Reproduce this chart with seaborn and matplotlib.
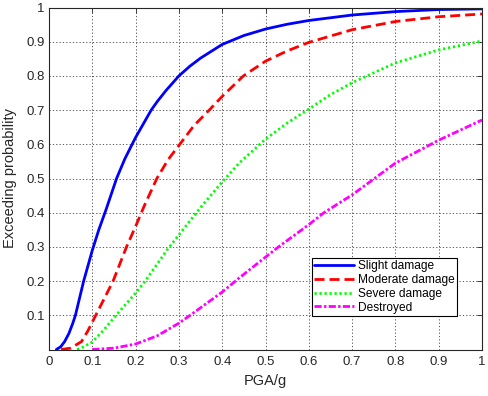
import numpy as np
import pandas as pd
import matplotlib
matplotlib.use("Agg")
import matplotlib.pyplot as plt
import seaborn as sns

# values (PGA/g, exceeding probability)
slight_x = [0.017, 0.027, 0.036, 0.046, 0.055, 0.061, 0.08, 0.10, 0.115, 0.132, 0.156, 0.175,
            0.192, 0.20, 0.236, 0.25, 0.27, 0.30, 0.325, 0.35, 0.40, 0.45, 0.50, 0.55, 0.60,
            0.70, 0.80, 0.90, 1.00]
slight_y = [0.0, 0.008, 0.023, 0.047, 0.077, 0.10, 0.20, 0.29, 0.35, 0.41, 0.50, 0.557,
            0.60, 0.62, 0.70, 0.725, 0.757, 0.80, 0.828, 0.852, 0.892, 0.918, 0.937, 0.951,
            0.962, 0.978, 0.988, 0.994, 0.996]

moderate_x = [0.028, 0.05, 0.075, 0.09, 0.108, 0.128, 0.148, 0.179, 0.20, 0.22, 0.249, 0.275,
              0.302, 0.335, 0.37, 0.40, 0.449, 0.50, 0.55, 0.60, 0.70, 0.80, 0.90, 1.00]
moderate_y = [0.0, 0.004, 0.023, 0.055, 0.10, 0.15, 0.20, 0.30, 0.36, 0.42, 0.50, 0.555,
              0.60, 0.655, 0.70, 0.74, 0.80, 0.843, 0.873, 0.898, 0.935, 0.959, 0.973, 0.981]

severe_x = [0.065, 0.08, 0.10, 0.125, 0.155, 0.20, 0.222, 0.25, 0.272, 0.30, 0.35, 0.40,
            0.44, 0.487, 0.50, 0.55, 0.60, 0.65, 0.70, 0.80, 0.90, 1.00]
severe_y = [0.0, 0.008, 0.022, 0.055, 0.10, 0.165, 0.20, 0.25, 0.29, 0.335, 0.415, 0.49,
            0.546, 0.60, 0.615, 0.662, 0.703, 0.745, 0.78, 0.838, 0.876, 0.902]

destroyed_x = [0.10, 0.15, 0.20, 0.25, 0.30, 0.326, 0.40, 0.441, 0.50, 0.53, 0.60, 0.635,
               0.70, 0.80, 0.90, 1.00]
destroyed_y = [0.0, 0.004, 0.016, 0.04, 0.077, 0.10, 0.168, 0.211, 0.27, 0.30, 0.365, 0.40,
               0.452, 0.545, 0.612, 0.671]

labels = ["Slight damage", "Moderate damage", "Severe damage", "Destroyed"]
x_ticks = [0, 0.1, 0.2, 0.3, 0.4, 0.5, 0.6, 0.7, 0.8, 0.9, 1]
y_ticks = [0.1, 0.2, 0.3, 0.4, 0.5, 0.6, 0.7, 0.8, 0.9, 1]

sns.set_style("white")
plt.rcParams['font.family'] = ['Liberation Sans', 'DejaVu Sans']

series = [
    (slight_x, slight_y, '#0000ff', '-'),
    (moderate_x, moderate_y, '#ff0000', (0, (3.6, 1.8))),
    (severe_x, severe_y, '#00ff00', (0, (0.8, 1.0))),
    (destroyed_x, destroyed_y, '#ff00ff', (0, (2.6, 0.8, 0.9, 0.8))),
]

fig = plt.figure(figsize=(4.88, 3.96), dpi=100)
ax = fig.add_axes([49 / 488, 1 - 349.5 / 396, 433 / 488, 342 / 396])

for (xs, ys, col, ls), lab in zip(series, labels):
    sns.lineplot(x=xs, y=ys, ax=ax, color=col, linewidth=2, linestyle=ls,
                 label=lab, sort=False, estimator=None)

ax.set_xlim(0, 1)
ax.set_ylim(0, 1)
ax.set_xticks(x_ticks)
ax.set_xticklabels([f"{t:g}" for t in x_ticks])
ax.set_yticks(y_ticks)
ax.set_yticklabels([f"{t:g}" for t in y_ticks])

tick_col = '#262626'
ax.tick_params(direction='in', length=3.5, width=0.6, colors=tick_col,
               labelsize=9.5, top=True, right=True)
ax.tick_params(axis='x', pad=5)
ax.tick_params(axis='y', pad=3)
for sp in ax.spines.values():
    sp.set_color(tick_col)
    sp.set_linewidth(0.8)

ax.grid(True, linestyle=(0, (1.5, 2.5)), color='#404040', linewidth=0.6)

ax.set_xlabel('PGA/g', fontsize=10.5, color=tick_col)
ax.set_ylabel('Exceeding probability', fontsize=10.5, color=tick_col)
ax.xaxis.set_label_coords(0.5, -0.072)
ax.yaxis.set_label_coords(-0.075, 0.5)

leg = ax.legend(loc='lower right', bbox_to_anchor=(0.942, 0.098), fontsize=8.6,
                frameon=True, fancybox=False, edgecolor='black', framealpha=1,
                handlelength=3.35, handletextpad=0.3, labelspacing=0.15,
                borderpad=0.2, borderaxespad=0)
leg.get_frame().set_linewidth(0.8)
for t in leg.get_texts():
    t.set_color('black')

fig.savefig('out.png', dpi=100)
